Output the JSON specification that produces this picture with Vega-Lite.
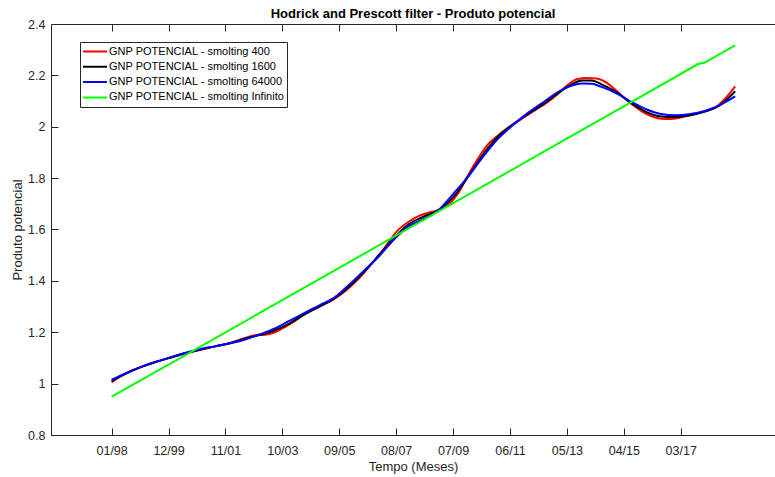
{
  "$schema": "https://vega.github.io/schema/vega-lite/v6.json",
  "autosize": {"type": "none"},
  "padding": {"left": 51, "top": 24, "right": 0, "bottom": 42},
  "width": 724,
  "height": 411,
  "background": "white",
  "config": {
    "font": "Liberation Sans",
    "view": {"stroke": null},
    "axis": {
      "grid": false,
      "domainColor": "#262626",
      "tickColor": "#262626",
      "labelColor": "#262626",
      "titleColor": "#262626",
      "labelFontSize": 12.5,
      "titleFontSize": 13,
      "titleFontWeight": "normal"
    }
  },
  "title": {
    "text": "Hodrick and Prescott filter - Produto potencial",
    "fontSize": 13,
    "fontWeight": "bold",
    "color": "#000000",
    "anchor": "middle",
    "offset": -3
  },
  "datasets": {
    "hp": [
      {"mes": 0, "serie": "GNP POTENCIAL - smolting 400", "valor": 1.005},
      {"mes": 4, "serie": "GNP POTENCIAL - smolting 400", "valor": 1.03},
      {"mes": 8, "serie": "GNP POTENCIAL - smolting 400", "valor": 1.05},
      {"mes": 12, "serie": "GNP POTENCIAL - smolting 400", "valor": 1.065},
      {"mes": 18, "serie": "GNP POTENCIAL - smolting 400", "valor": 1.085},
      {"mes": 24, "serie": "GNP POTENCIAL - smolting 400", "valor": 1.102},
      {"mes": 30, "serie": "GNP POTENCIAL - smolting 400", "valor": 1.118},
      {"mes": 36, "serie": "GNP POTENCIAL - smolting 400", "valor": 1.132},
      {"mes": 42, "serie": "GNP POTENCIAL - smolting 400", "valor": 1.145},
      {"mes": 48, "serie": "GNP POTENCIAL - smolting 400", "valor": 1.158},
      {"mes": 54, "serie": "GNP POTENCIAL - smolting 400", "valor": 1.178},
      {"mes": 58, "serie": "GNP POTENCIAL - smolting 400", "valor": 1.188},
      {"mes": 62, "serie": "GNP POTENCIAL - smolting 400", "valor": 1.19},
      {"mes": 66, "serie": "GNP POTENCIAL - smolting 400", "valor": 1.2},
      {"mes": 70, "serie": "GNP POTENCIAL - smolting 400", "valor": 1.22},
      {"mes": 75, "serie": "GNP POTENCIAL - smolting 400", "valor": 1.25},
      {"mes": 80, "serie": "GNP POTENCIAL - smolting 400", "valor": 1.285},
      {"mes": 85, "serie": "GNP POTENCIAL - smolting 400", "valor": 1.305},
      {"mes": 90, "serie": "GNP POTENCIAL - smolting 400", "valor": 1.33},
      {"mes": 95, "serie": "GNP POTENCIAL - smolting 400", "valor": 1.365},
      {"mes": 100, "serie": "GNP POTENCIAL - smolting 400", "valor": 1.41},
      {"mes": 105, "serie": "GNP POTENCIAL - smolting 400", "valor": 1.465},
      {"mes": 110, "serie": "GNP POTENCIAL - smolting 400", "valor": 1.525},
      {"mes": 115, "serie": "GNP POTENCIAL - smolting 400", "valor": 1.59},
      {"mes": 120, "serie": "GNP POTENCIAL - smolting 400", "valor": 1.63},
      {"mes": 124, "serie": "GNP POTENCIAL - smolting 400", "valor": 1.652},
      {"mes": 128, "serie": "GNP POTENCIAL - smolting 400", "valor": 1.665},
      {"mes": 132, "serie": "GNP POTENCIAL - smolting 400", "valor": 1.675},
      {"mes": 136, "serie": "GNP POTENCIAL - smolting 400", "valor": 1.695},
      {"mes": 140, "serie": "GNP POTENCIAL - smolting 400", "valor": 1.74},
      {"mes": 144, "serie": "GNP POTENCIAL - smolting 400", "valor": 1.81},
      {"mes": 148, "serie": "GNP POTENCIAL - smolting 400", "valor": 1.875},
      {"mes": 152, "serie": "GNP POTENCIAL - smolting 400", "valor": 1.93},
      {"mes": 156, "serie": "GNP POTENCIAL - smolting 400", "valor": 1.965},
      {"mes": 160, "serie": "GNP POTENCIAL - smolting 400", "valor": 1.995},
      {"mes": 164, "serie": "GNP POTENCIAL - smolting 400", "valor": 2.02},
      {"mes": 168, "serie": "GNP POTENCIAL - smolting 400", "valor": 2.045},
      {"mes": 172, "serie": "GNP POTENCIAL - smolting 400", "valor": 2.07},
      {"mes": 176, "serie": "GNP POTENCIAL - smolting 400", "valor": 2.095},
      {"mes": 180, "serie": "GNP POTENCIAL - smolting 400", "valor": 2.125},
      {"mes": 184, "serie": "GNP POTENCIAL - smolting 400", "valor": 2.16},
      {"mes": 188, "serie": "GNP POTENCIAL - smolting 400", "valor": 2.185},
      {"mes": 192, "serie": "GNP POTENCIAL - smolting 400", "valor": 2.19},
      {"mes": 196, "serie": "GNP POTENCIAL - smolting 400", "valor": 2.188},
      {"mes": 200, "serie": "GNP POTENCIAL - smolting 400", "valor": 2.172},
      {"mes": 204, "serie": "GNP POTENCIAL - smolting 400", "valor": 2.14},
      {"mes": 208, "serie": "GNP POTENCIAL - smolting 400", "valor": 2.105},
      {"mes": 212, "serie": "GNP POTENCIAL - smolting 400", "valor": 2.075},
      {"mes": 216, "serie": "GNP POTENCIAL - smolting 400", "valor": 2.05},
      {"mes": 220, "serie": "GNP POTENCIAL - smolting 400", "valor": 2.035},
      {"mes": 224, "serie": "GNP POTENCIAL - smolting 400", "valor": 2.03},
      {"mes": 228, "serie": "GNP POTENCIAL - smolting 400", "valor": 2.032},
      {"mes": 232, "serie": "GNP POTENCIAL - smolting 400", "valor": 2.042},
      {"mes": 236, "serie": "GNP POTENCIAL - smolting 400", "valor": 2.05},
      {"mes": 240, "serie": "GNP POTENCIAL - smolting 400", "valor": 2.06},
      {"mes": 244, "serie": "GNP POTENCIAL - smolting 400", "valor": 2.075},
      {"mes": 248, "serie": "GNP POTENCIAL - smolting 400", "valor": 2.11},
      {"mes": 252, "serie": "GNP POTENCIAL - smolting 400", "valor": 2.157},

      {"mes": 0, "serie": "GNP POTENCIAL - smolting 1600", "valor": 1.01},
      {"mes": 6, "serie": "GNP POTENCIAL - smolting 1600", "valor": 1.04},
      {"mes": 12, "serie": "GNP POTENCIAL - smolting 1600", "valor": 1.065},
      {"mes": 18, "serie": "GNP POTENCIAL - smolting 1600", "valor": 1.085},
      {"mes": 24, "serie": "GNP POTENCIAL - smolting 1600", "valor": 1.102},
      {"mes": 30, "serie": "GNP POTENCIAL - smolting 1600", "valor": 1.119},
      {"mes": 36, "serie": "GNP POTENCIAL - smolting 1600", "valor": 1.133},
      {"mes": 42, "serie": "GNP POTENCIAL - smolting 1600", "valor": 1.145},
      {"mes": 48, "serie": "GNP POTENCIAL - smolting 1600", "valor": 1.158},
      {"mes": 54, "serie": "GNP POTENCIAL - smolting 1600", "valor": 1.176},
      {"mes": 60, "serie": "GNP POTENCIAL - smolting 1600", "valor": 1.19},
      {"mes": 66, "serie": "GNP POTENCIAL - smolting 1600", "valor": 1.208},
      {"mes": 72, "serie": "GNP POTENCIAL - smolting 1600", "valor": 1.235},
      {"mes": 78, "serie": "GNP POTENCIAL - smolting 1600", "valor": 1.27},
      {"mes": 84, "serie": "GNP POTENCIAL - smolting 1600", "valor": 1.3},
      {"mes": 90, "serie": "GNP POTENCIAL - smolting 1600", "valor": 1.332},
      {"mes": 96, "serie": "GNP POTENCIAL - smolting 1600", "valor": 1.378},
      {"mes": 102, "serie": "GNP POTENCIAL - smolting 1600", "valor": 1.435},
      {"mes": 108, "serie": "GNP POTENCIAL - smolting 1600", "valor": 1.5},
      {"mes": 114, "serie": "GNP POTENCIAL - smolting 1600", "valor": 1.565},
      {"mes": 120, "serie": "GNP POTENCIAL - smolting 1600", "valor": 1.62},
      {"mes": 126, "serie": "GNP POTENCIAL - smolting 1600", "valor": 1.65},
      {"mes": 132, "serie": "GNP POTENCIAL - smolting 1600", "valor": 1.675},
      {"mes": 138, "serie": "GNP POTENCIAL - smolting 1600", "valor": 1.725},
      {"mes": 144, "serie": "GNP POTENCIAL - smolting 1600", "valor": 1.805},
      {"mes": 150, "serie": "GNP POTENCIAL - smolting 1600", "valor": 1.89},
      {"mes": 156, "serie": "GNP POTENCIAL - smolting 1600", "valor": 1.96},
      {"mes": 162, "serie": "GNP POTENCIAL - smolting 1600", "valor": 2.008},
      {"mes": 168, "serie": "GNP POTENCIAL - smolting 1600", "valor": 2.048},
      {"mes": 174, "serie": "GNP POTENCIAL - smolting 1600", "valor": 2.085},
      {"mes": 180, "serie": "GNP POTENCIAL - smolting 1600", "valor": 2.128},
      {"mes": 186, "serie": "GNP POTENCIAL - smolting 1600", "valor": 2.165},
      {"mes": 190, "serie": "GNP POTENCIAL - smolting 1600", "valor": 2.18},
      {"mes": 194, "serie": "GNP POTENCIAL - smolting 1600", "valor": 2.18},
      {"mes": 198, "serie": "GNP POTENCIAL - smolting 1600", "valor": 2.165},
      {"mes": 204, "serie": "GNP POTENCIAL - smolting 1600", "valor": 2.135},
      {"mes": 210, "serie": "GNP POTENCIAL - smolting 1600", "valor": 2.093},
      {"mes": 216, "serie": "GNP POTENCIAL - smolting 1600", "valor": 2.058},
      {"mes": 222, "serie": "GNP POTENCIAL - smolting 1600", "valor": 2.04},
      {"mes": 228, "serie": "GNP POTENCIAL - smolting 1600", "valor": 2.038},
      {"mes": 234, "serie": "GNP POTENCIAL - smolting 1600", "valor": 2.045},
      {"mes": 240, "serie": "GNP POTENCIAL - smolting 1600", "valor": 2.06},
      {"mes": 246, "serie": "GNP POTENCIAL - smolting 1600", "valor": 2.085},
      {"mes": 252, "serie": "GNP POTENCIAL - smolting 1600", "valor": 2.138},

      {"mes": 0, "serie": "GNP POTENCIAL - smolting 64000", "valor": 1.015},
      {"mes": 6, "serie": "GNP POTENCIAL - smolting 64000", "valor": 1.042},
      {"mes": 12, "serie": "GNP POTENCIAL - smolting 64000", "valor": 1.065},
      {"mes": 18, "serie": "GNP POTENCIAL - smolting 64000", "valor": 1.085},
      {"mes": 24, "serie": "GNP POTENCIAL - smolting 64000", "valor": 1.103},
      {"mes": 30, "serie": "GNP POTENCIAL - smolting 64000", "valor": 1.12},
      {"mes": 36, "serie": "GNP POTENCIAL - smolting 64000", "valor": 1.135},
      {"mes": 42, "serie": "GNP POTENCIAL - smolting 64000", "valor": 1.146},
      {"mes": 48, "serie": "GNP POTENCIAL - smolting 64000", "valor": 1.157},
      {"mes": 54, "serie": "GNP POTENCIAL - smolting 64000", "valor": 1.172},
      {"mes": 60, "serie": "GNP POTENCIAL - smolting 64000", "valor": 1.192},
      {"mes": 66, "serie": "GNP POTENCIAL - smolting 64000", "valor": 1.215},
      {"mes": 72, "serie": "GNP POTENCIAL - smolting 64000", "valor": 1.245},
      {"mes": 78, "serie": "GNP POTENCIAL - smolting 64000", "valor": 1.275},
      {"mes": 84, "serie": "GNP POTENCIAL - smolting 64000", "valor": 1.305},
      {"mes": 90, "serie": "GNP POTENCIAL - smolting 64000", "valor": 1.335},
      {"mes": 96, "serie": "GNP POTENCIAL - smolting 64000", "valor": 1.385},
      {"mes": 102, "serie": "GNP POTENCIAL - smolting 64000", "valor": 1.44},
      {"mes": 108, "serie": "GNP POTENCIAL - smolting 64000", "valor": 1.495},
      {"mes": 114, "serie": "GNP POTENCIAL - smolting 64000", "valor": 1.56},
      {"mes": 120, "serie": "GNP POTENCIAL - smolting 64000", "valor": 1.612},
      {"mes": 126, "serie": "GNP POTENCIAL - smolting 64000", "valor": 1.64},
      {"mes": 132, "serie": "GNP POTENCIAL - smolting 64000", "valor": 1.675},
      {"mes": 138, "serie": "GNP POTENCIAL - smolting 64000", "valor": 1.738},
      {"mes": 144, "serie": "GNP POTENCIAL - smolting 64000", "valor": 1.805},
      {"mes": 150, "serie": "GNP POTENCIAL - smolting 64000", "valor": 1.882},
      {"mes": 156, "serie": "GNP POTENCIAL - smolting 64000", "valor": 1.952},
      {"mes": 162, "serie": "GNP POTENCIAL - smolting 64000", "valor": 2.005},
      {"mes": 168, "serie": "GNP POTENCIAL - smolting 64000", "valor": 2.052},
      {"mes": 174, "serie": "GNP POTENCIAL - smolting 64000", "valor": 2.092},
      {"mes": 180, "serie": "GNP POTENCIAL - smolting 64000", "valor": 2.133},
      {"mes": 186, "serie": "GNP POTENCIAL - smolting 64000", "valor": 2.16},
      {"mes": 190, "serie": "GNP POTENCIAL - smolting 64000", "valor": 2.168},
      {"mes": 194, "serie": "GNP POTENCIAL - smolting 64000", "valor": 2.167},
      {"mes": 198, "serie": "GNP POTENCIAL - smolting 64000", "valor": 2.155},
      {"mes": 204, "serie": "GNP POTENCIAL - smolting 64000", "valor": 2.13},
      {"mes": 210, "serie": "GNP POTENCIAL - smolting 64000", "valor": 2.097},
      {"mes": 216, "serie": "GNP POTENCIAL - smolting 64000", "valor": 2.068},
      {"mes": 222, "serie": "GNP POTENCIAL - smolting 64000", "valor": 2.05},
      {"mes": 228, "serie": "GNP POTENCIAL - smolting 64000", "valor": 2.045},
      {"mes": 234, "serie": "GNP POTENCIAL - smolting 64000", "valor": 2.05},
      {"mes": 240, "serie": "GNP POTENCIAL - smolting 64000", "valor": 2.062},
      {"mes": 246, "serie": "GNP POTENCIAL - smolting 64000", "valor": 2.085},
      {"mes": 252, "serie": "GNP POTENCIAL - smolting 64000", "valor": 2.118},

      {"mes": 0, "serie": "GNP POTENCIAL - smolting Infinito", "valor": 0.949},
      {"mes": 30, "serie": "GNP POTENCIAL - smolting Infinito", "valor": 1.112},
      {"mes": 60, "serie": "GNP POTENCIAL - smolting Infinito", "valor": 1.276},
      {"mes": 90, "serie": "GNP POTENCIAL - smolting Infinito", "valor": 1.44},
      {"mes": 120, "serie": "GNP POTENCIAL - smolting Infinito", "valor": 1.604},
      {"mes": 150, "serie": "GNP POTENCIAL - smolting Infinito", "valor": 1.768},
      {"mes": 180, "serie": "GNP POTENCIAL - smolting Infinito", "valor": 1.932},
      {"mes": 210, "serie": "GNP POTENCIAL - smolting Infinito", "valor": 2.096},
      {"mes": 237, "serie": "GNP POTENCIAL - smolting Infinito", "valor": 2.244},
      {"mes": 239.5, "serie": "GNP POTENCIAL - smolting Infinito", "valor": 2.249},
      {"mes": 252, "serie": "GNP POTENCIAL - smolting Infinito", "valor": 2.317}
    ]
  },
  "data": {"name": "hp"},
  "encoding": {
    "y": {
      "field": "valor",
      "type": "quantitative",
      "scale": {"domain": [0.8, 2.4], "nice": false, "zero": false},
      "axis": {
        "title": "Produto potencial",
        "values": [0.8, 1, 1.2, 1.4, 1.6, 1.8, 2, 2.2, 2.4],
        "format": "~g",
        "tickSize": -7,
        "labelPadding": 13,
        "titlePadding": 3
      }
    },
    "color": {
      "field": "serie",
      "type": "nominal",
      "scale": {
        "domain": [
          "GNP POTENCIAL - smolting 400",
          "GNP POTENCIAL - smolting 1600",
          "GNP POTENCIAL - smolting 64000",
          "GNP POTENCIAL - smolting Infinito"
        ],
        "range": ["#ff0000", "#000000", "#0000ff", "#00ff00"]
      },
      "legend": {
        "title": null,
        "orient": "none",
        "legendX": 29,
        "legendY": 18,
        "fillColor": "white",
        "strokeColor": "#262626",
        "padding": 2,
        "symbolType": "stroke",
        "symbolSize": 576,
        "symbolStrokeWidth": 2,
        "clipHeight": 15,
        "labelFontSize": 11,
        "labelColor": "#000000",
        "labelOffset": 1,
        "labelLimit": 300,
        "rowPadding": 0.3
      }
    }
  },
  "layer": [
    {
      "transform": [{"filter": "datum.serie !== 'GNP POTENCIAL - smolting Infinito'"}],
      "mark": {"type": "line", "strokeWidth": 2, "interpolate": "monotone"},
      "encoding": {
        "x": {
          "field": "mes",
          "type": "quantitative",
          "scale": {"domain": [-24.5, 268.1], "nice": false, "zero": false},
          "axis": {
            "orient": "bottom",
            "title": "Tempo (Meses)",
            "values": [0, 23, 46, 69, 92, 115, 138, 161, 184, 207, 230],
            "labelExpr": "pad(toString(datum.value % 12 + 1), 2, '0', 'left') + '/' + pad(toString((98 + floor(datum.value / 12)) % 100), 2, '0', 'left')",
            "tickSize": -7,
            "labelPadding": 16,
            "titlePadding": 4
          }
        }
      }
    },
    {
      "transform": [{"filter": "datum.serie === 'GNP POTENCIAL - smolting Infinito'"}],
      "mark": {"type": "line", "strokeWidth": 2, "interpolate": "linear"},
      "encoding": {
        "x": {
          "field": "mes",
          "type": "quantitative",
          "axis": {
            "orient": "top",
            "title": null,
            "labels": false,
            "values": [0, 23, 46, 69, 92, 115, 138, 161, 184, 207, 230],
            "tickSize": -7
          }
        }
      }
    }
  ],
  "resolve": {"axis": {"x": "independent"}}
}
